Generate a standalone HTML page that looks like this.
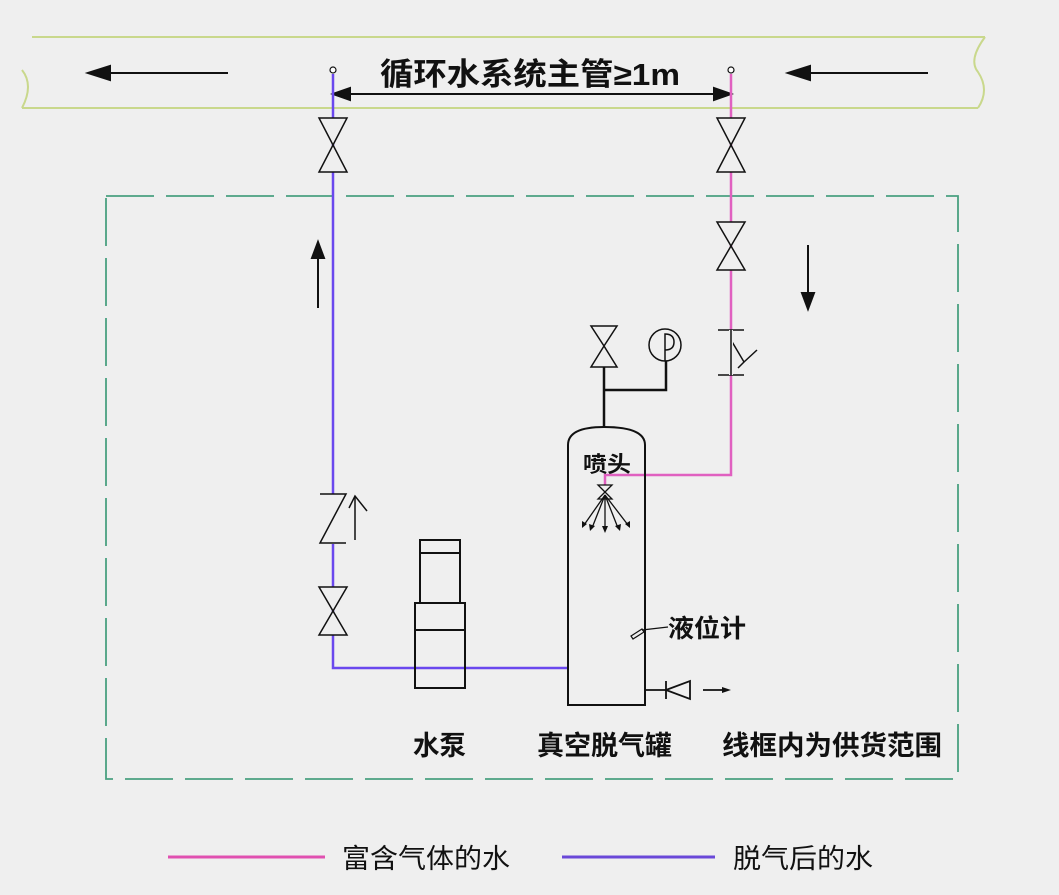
<!DOCTYPE html>
<html><head><meta charset="utf-8"><style>
html,body{margin:0;padding:0;background:#efefef;}
svg{display:block}
text{font-family:"Liberation Sans","Noto Sans CJK SC",sans-serif;fill:#111}
</style></head><body>
<svg width="1059" height="895" viewBox="0 0 1059 895" xmlns="http://www.w3.org/2000/svg">
<rect width="1059" height="895" fill="#efefef"/>
<g stroke="#c9d88c" stroke-width="2" fill="none">
<line x1="32" y1="37" x2="985" y2="37"/>
<line x1="22" y1="108" x2="978" y2="108"/>
<path d="M22 70 Q34 85 22 108"/>
<path d="M985 37 Q968 60 978 72 Q990 90 978 108"/>
</g>
<g stroke="#111" stroke-width="2" fill="#111">
<line x1="100" y1="73" x2="228" y2="73"/>
<polygon points="88,73 110,66 110,80"/>
<line x1="800" y1="73" x2="928" y2="73"/>
<polygon points="788,73 810,66 810,80"/>
<line x1="345" y1="94" x2="720" y2="94"/>
<polygon points="333,94 350,88 350,100"/>
<polygon points="731,94 714,88 714,100"/>
</g>
<circle cx="333" cy="70" r="3" fill="#fff" stroke="#111" stroke-width="1.2"/>
<circle cx="731" cy="70" r="3" fill="#fff" stroke="#111" stroke-width="1.2"/>
<text x="380" y="85" font-size="31" font-weight="bold" textLength="300" lengthAdjust="spacingAndGlyphs">循环水系统主管≥1m</text>
<rect x="106" y="196" width="852" height="583" fill="none" stroke="#4aa080" stroke-width="1.8" stroke-dasharray="48,12"/>
<polyline points="333,74 333,668 568,668" fill="none" stroke="#6a48ee" stroke-width="2.5"/>
<polyline points="731,74 731,475 605,475 605,485" fill="none" stroke="#e060c0" stroke-width="2.5"/>
<g fill="#efefef" stroke="#111" stroke-width="1.5">
<polygon points="319,118 347,118 333,145 319,172 347,172 333,145"/>
<polygon points="717,118 745,118 731,145 717,172 745,172 731,145"/>
<polygon points="717,222 745,222 731,246 717,270 745,270 731,246"/>
<polygon points="319,587 347,587 333,611 319,635 347,635 333,611"/>
<polygon points="591,326 617,326 604,346 591,367 617,367 604,346"/>
</g>
<g stroke="#111" stroke-width="1.5" fill="none">
<line x1="718" y1="330" x2="744" y2="330"/>
<line x1="718" y1="375" x2="744" y2="375"/>
<polyline points="731,340 744,362 757,350"/>
<line x1="744" y1="362" x2="738" y2="368"/>
</g>
<rect x="729" y="330" width="4" height="45" fill="#efefef"/>
<line x1="731" y1="330" x2="731" y2="375" stroke="#111" stroke-width="1.5"/>
<rect x="328" y="494" width="10" height="50" fill="#efefef"/>
<g stroke="#111" stroke-width="1.5" fill="none">
<polyline points="320,494 346,494 320,543 346,543"/>
<line x1="355" y1="540" x2="355" y2="496"/>
<polyline points="349,508 355,496 367,511"/>
</g>
<g stroke="#111" stroke-width="2" fill="#111">
<line x1="318" y1="255" x2="318" y2="308"/>
<polygon points="318,242 312,258 324,258"/>
<line x1="808" y1="245" x2="808" y2="296"/>
<polygon points="808,309 802,293 814,293"/>
</g>
<g stroke="#111" stroke-width="2" fill="none">
<rect x="420" y="540" width="40" height="63"/>
<line x1="420" y1="553" x2="460" y2="553"/>
<rect x="415" y="603" width="50" height="85"/>
<line x1="415" y1="630" x2="465" y2="630"/>
</g>
<path d="M568 705 L568 445 Q568 427 604 427 Q645 427 645 445 L645 705 Z" fill="none" stroke="#111" stroke-width="2"/>
<g stroke="#111" stroke-width="2.5" fill="none">
<line x1="604" y1="367" x2="604" y2="427"/>
<polyline points="604,390 666,390 666,361"/>
</g>
<circle cx="665" cy="345" r="16" fill="#efefef" stroke="#111" stroke-width="1.5"/>
<path d="M665 361 L665 334 Q674 334 674 342 Q674 350 665 350" fill="none" stroke="#111" stroke-width="1.5"/>
<text x="583" y="472" font-size="22" font-weight="bold" textLength="48" lengthAdjust="spacingAndGlyphs">喷头</text>
<g stroke="#111" stroke-width="1.3" fill="none">
<polygon points="598,485 612,485 605,492 598,499 612,499 605,492"/>
<line x1="605" y1="495" x2="584" y2="525"/>
<line x1="605" y1="495" x2="592" y2="528"/>
<line x1="605" y1="495" x2="605" y2="530"/>
<line x1="605" y1="495" x2="618" y2="528"/>
<line x1="605" y1="495" x2="628" y2="525"/>
</g>
<g fill="#111">
<polygon points="582,528 582,521 587,524"/>
<polygon points="590,531 589,524 595,526"/>
<polygon points="605,533 602,526 608,526"/>
<polygon points="620,531 615,526 621,524"/>
<polygon points="630,528 625,524 630,521"/>
</g>
<g stroke="#111" stroke-width="1.2" fill="none">
<polygon points="631,636 642,629 644,632 633,639"/>
<line x1="642" y1="630" x2="668" y2="627"/>
</g>
<text x="668" y="637" font-size="25" font-weight="bold" textLength="78" lengthAdjust="spacingAndGlyphs">液位计</text>
<g stroke="#111" stroke-width="1.8" fill="none">
<line x1="645" y1="690" x2="666" y2="690"/>
<line x1="666" y1="681" x2="666" y2="699"/>
<polygon points="666,690 690,681 690,699"/>
<line x1="703" y1="690" x2="722" y2="690"/>
</g>
<polygon points="731,690 722,687 722,693" fill="#111"/>
<g font-size="27" font-weight="bold">
<text x="413" y="755" textLength="53" lengthAdjust="spacingAndGlyphs">水泵</text>
<text x="537" y="755" textLength="135" lengthAdjust="spacingAndGlyphs">真空脱气罐</text>
<text x="722" y="755" textLength="220" lengthAdjust="spacingAndGlyphs">线框内为供货范围</text>
</g>
<line x1="168" y1="857" x2="325" y2="857" stroke="#e050b0" stroke-width="3"/>
<line x1="562" y1="857" x2="715" y2="857" stroke="#6a48d8" stroke-width="3"/>
<text x="342" y="868" font-size="27" textLength="168" lengthAdjust="spacingAndGlyphs">富含气体的水</text>
<text x="733" y="868" font-size="27" textLength="140" lengthAdjust="spacingAndGlyphs">脱气后的水</text>
</svg>
</body></html>
